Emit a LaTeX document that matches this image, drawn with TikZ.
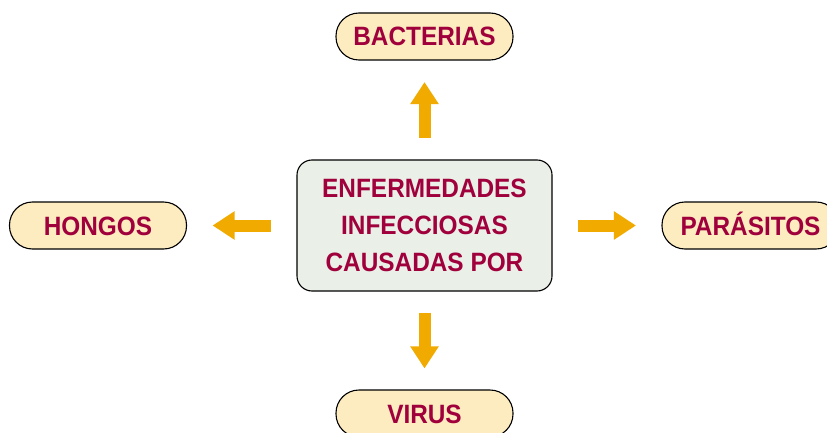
\documentclass[tikz,border=0pt]{standalone}
\usepackage{fontspec}
\setmainfont{Liberation Sans}[FakeStretch=0.92]
\usepackage{tikz}
\usetikzlibrary{arrows.meta}
\definecolor{granate}{RGB}{160,0,60}
\definecolor{crema}{RGB}{253,236,192}
\definecolor{verdoso}{RGB}{234,240,232}
\definecolor{ambar}{RGB}{240,170,0}
\tikzset{
  caja/.style={draw=black,line width=1.1pt,text=granate,font=\bfseries\fontsize{26.5}{37}\selectfont},
  centro/.style={caja,fill=verdoso,rounded corners=15pt,minimum width=255pt,minimum height=131pt,align=center},
  hoja/.style={caja,fill=crema,rounded corners=23pt,minimum width=177pt,minimum height=47pt,inner sep=0pt,
               text height=19pt,text depth=0pt},
  flecha/.style={ambar,line width=12pt,-{Triangle[length=22pt,width=27pt]}}
}
\begin{document}
\begin{tikzpicture}[x=1pt,y=1pt]
  \useasboundingbox (0,0) rectangle (827,432);
  \node[centro] (centro) at (424.5,206.5) {ENFERMEDADES\\INFECCIOSAS\\CAUSADAS POR};
  % nodos de alrededor
  \foreach \n/\x/\y/\t in {bacterias/424.5/395.5/BACTERIAS,virus/424.5/18.5/VIRUS,
                           hongos/98/206.5/HONGOS,parasitos/750.5/206.5/PARÁSITOS}
    \node[hoja] (\n) at (\x,\y) {\t};
  % flechas
  \foreach \n/\s in {bacterias/21.5,virus/21,hongos/25.5,parasitos/25.5}
    \draw[flecha,shorten <=\s pt,shorten >=\s pt] (centro) -- (\n);
\end{tikzpicture}
\end{document}
